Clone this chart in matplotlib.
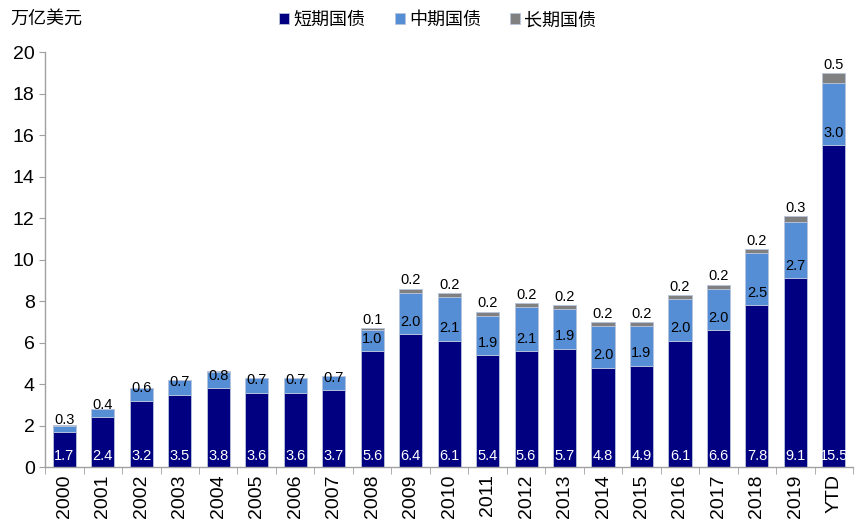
"""US Treasury issuance by maturity bucket, stacked bars."""

import matplotlib
matplotlib.use("Agg")
import matplotlib.pyplot as plt
import numpy as np

YEARS = ["2000", "2001", "2002", "2003", "2004", "2005", "2006", "2007",
         "2008", "2009", "2010", "2011", "2012", "2013", "2014", "2015",
         "2016", "2017", "2018", "2019", "YTD"]

SHORT = [1.7, 2.4, 3.2, 3.5, 3.8, 3.6, 3.6, 3.7, 5.6, 6.4, 6.1, 5.4, 5.6,
         5.7, 4.8, 4.9, 6.1, 6.6, 7.8, 9.1, 15.5]
MID = [0.3, 0.4, 0.6, 0.7, 0.8, 0.7, 0.7, 0.7, 1.0, 2.0, 2.1, 1.9, 2.1,
       1.9, 2.0, 1.9, 2.0, 2.0, 2.5, 2.7, 3.0]
LONG = [0.02, 0.02, 0.02, 0.02, 0.02, 0.02, 0.02, 0.02, 0.1, 0.2, 0.2, 0.2,
        0.2, 0.2, 0.2, 0.2, 0.2, 0.2, 0.2, 0.3, 0.5]

SERIES_NAMES = ["短期国债", "中期国债", "长期国债"]
COLORS = ["#000080", "#558ED5", "#808080"]
Y_TICKS = [0, 2, 4, 6, 8, 10, 12, 14, 16, 18, 20]

LATIN = "Liberation Sans"
CJK = ["Noto Sans CJK SC", "DejaVu Sans"]

plt.rcParams["font.family"] = [LATIN, "Noto Sans CJK SC"]


def main() -> None:
    fig = plt.figure(figsize=(8.67, 5.31), dpi=100)
    ax = fig.add_axes([0.052, 0.12, 0.932, 0.782])

    x = np.arange(len(YEARS))
    short = np.array(SHORT)
    mid = np.array(MID)
    long_ = np.array(LONG)
    edge = "#B8C4DC"

    ax.bar(x, short, 0.6, color=COLORS[0], edgecolor=edge, linewidth=0.6,
           label=SERIES_NAMES[0])
    ax.bar(x, mid, 0.6, bottom=short, color=COLORS[1], edgecolor=edge,
           linewidth=0.6, label=SERIES_NAMES[1])
    ax.bar(x, long_, 0.6, bottom=short + mid, color=COLORS[2],
           edgecolor=edge, linewidth=0.6, label=SERIES_NAMES[2])

    for i in range(len(YEARS)):
        ax.text(x[i], 0.55, f"{SHORT[i]:.1f}", ha="center", va="center",
                color="white", fontsize=10.5)
        ax.text(x[i], SHORT[i] + 0.6, f"{MID[i]:.1f}", ha="center",
                va="center", color="black", fontsize=10.5)
        if LONG[i] >= 0.05:
            ax.text(x[i], SHORT[i] + MID[i] + LONG[i] + 0.06,
                    f"{LONG[i]:.1f}", ha="center", va="bottom",
                    color="black", fontsize=10.5)

    ax.set_xlim(-0.5, len(YEARS) - 0.5)
    ax.set_ylim(0, 20)
    ax.set_yticks(Y_TICKS)
    ax.set_yticklabels([str(v) for v in Y_TICKS], fontsize=14)
    ax.set_xticks(x)
    ax.set_xticklabels(YEARS, rotation=90, fontsize=14)
    ax.set_xticks(np.arange(len(YEARS) + 1) - 0.5, minor=True)
    ax.tick_params(axis="x", which="major", length=0, pad=5)
    ax.tick_params(axis="x", which="minor", length=5, color="#A0A0A0",
                   direction="out")
    ax.tick_params(axis="y", length=4, color="#A0A0A0", direction="out")

    for side in ("top", "right"):
        ax.spines[side].set_visible(False)
    for side in ("left", "bottom"):
        ax.spines[side].set_color("#A0A0A0")
        ax.spines[side].set_linewidth(1.0)

    ax.legend(loc="center", bbox_to_anchor=(0.505, 0.962),
              bbox_transform=fig.transFigure, ncol=3, frameon=False,
              handlelength=0.55, handleheight=0.55, handletextpad=0.25,
              columnspacing=1.6, prop={"family": CJK, "size": 13})

    fig.text(0.012, 0.965, "万亿美元", family=CJK, fontsize=13, va="center")

    fig.savefig("out.png", dpi=100)
    plt.close(fig)


if __name__ == "__main__":
    main()
